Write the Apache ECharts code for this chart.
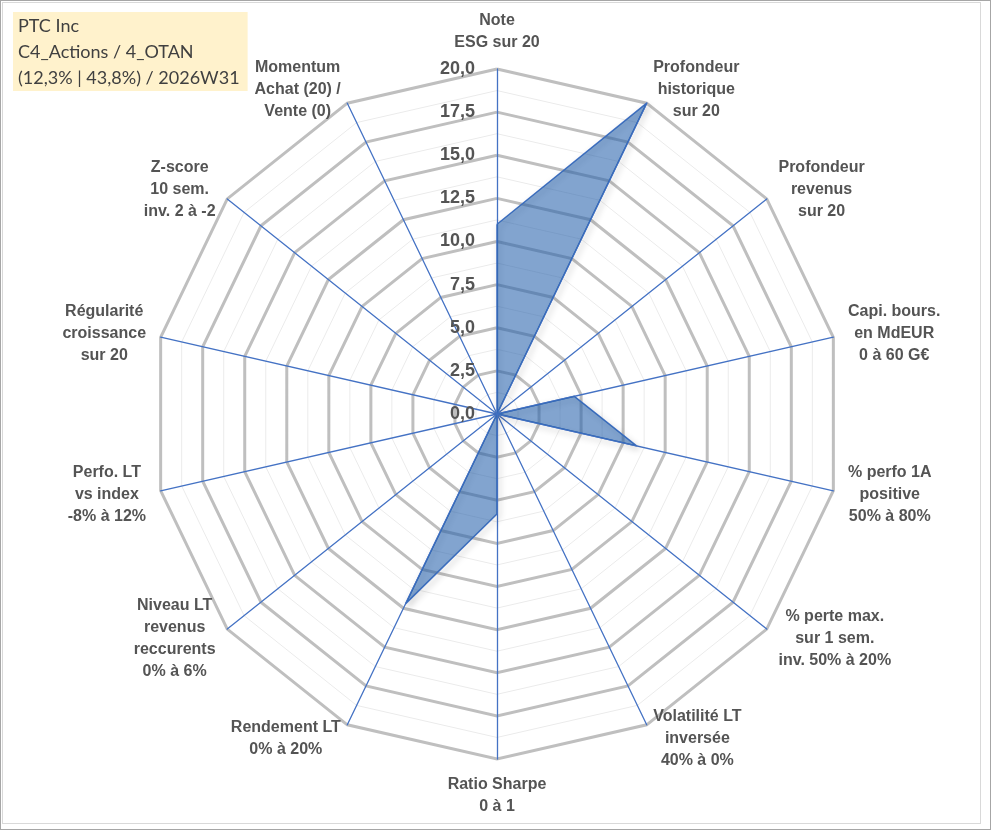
<!DOCTYPE html>
<html lang="fr">
<head>
    <meta charset="UTF-8">
    <title>Radar PTC Inc</title>
    <script src="https://cdn.jsdelivr.net/npm/echarts@6/dist/echarts.min.js"></script>
    <style>
        body { margin: 0; background: #fff; }
        #main { position: absolute; left: 0; top: 0; width: 991px; height: 830px; }
        #outer { position: absolute; left: 0; top: 0; width: 989px; height: 828px; border: 1px solid #a6a6a6; pointer-events: none; }
        #inner { position: absolute; left: 2px; top: 2px; width: 977px; height: 820px; border: 1px solid #d9d9d9; pointer-events: none; }
    </style>
</head>
<body>
<div id="main"></div>
<div id="outer"></div>
<div id="inner"></div>
<script type="text/javascript">
    // axes dans le sens horaire, en partant du haut
    var axes = [
        'Note\nESG sur 20',
        'Profondeur\nhistorique\nsur 20',
        'Profondeur\nrevenus\nsur 20',
        'Capi. bours.\nen MdEUR\n0 à 60 G€',
        '% perfo 1A\npositive\n50% à 80%',
        '% perte max.\nsur 1 sem.\ninv. 50% à 20%',
        'Volatilité LT\ninversée\n40% à 0%',
        'Ratio Sharpe\n0 à 1',
        'Rendement LT\n0% à 20%',
        'Niveau LT\nrevenus\nreccurents\n0% à 6%',
        'Perfo. LT\nvs index\n-8% à 12%',
        'Régularité\ncroissance\nsur 20',
        'Z-score\n10 sem.\ninv. 2 à -2',
        'Momentum\nAchat (20) /\nVente (0)'
    ];
    var scores = [11, 20, 0, 4.6, 8.3, 0, 0, 5.8, 12.2, 0, 0, 0, 0, 0];
    var axisMax = 20;
    var tickStep = 2.5;
    var titleLines = ['PTC Inc', 'C4_Actions / 4_OTAN', '(12,3% | 43,8%) / 2026W31'];

    // ECharts tourne dans le sens anti-horaire : on garde le premier axe et on inverse le reste
    function ccw(arr) {
        return [arr[0]].concat(arr.slice(1).reverse());
    }
    var names = ccw(axes);
    var values = ccw(scores);

    var center = [497, 414];
    var radius = 345;
    var nSplit = axisMax / tickStep;
    var labelColor = '#545454';

    var mainIndicator = names.map(function (n, i) {
        var ind = { name: n, min: 0, max: axisMax };
        if (i === 0) {
            ind.axisLabel = {
                show: true,
                margin: 22,
                color: labelColor,
                fontFamily: 'Liberation Sans',
                fontWeight: 'bold',
                fontSize: 18,
                formatter: function (v) { return v.toFixed(1).replace('.', ','); }
            };
        }
        return ind;
    });
    var minorIndicator = names.map(function (n) {
        return { name: n, min: 0, max: axisMax };
    });

    var myChart = echarts.init(document.getElementById('main'));
    var option = {
        animation: false,
        title: {
            text: titleLines.join('\n'),
            left: 13,
            top: 12,
            padding: [1, 8, 0, 5],
            backgroundColor: '#fff2cc',
            textStyle: {
                fontFamily: 'Lato',
                fontSize: 18,
                fontWeight: 'normal',
                color: '#404040',
                lineHeight: 26
            }
        },
        radar: [
            {
                // quadrillage fin
                center: center,
                radius: radius,
                shape: 'polygon',
                splitNumber: nSplit * 2,
                indicator: minorIndicator,
                axisName: { show: false },
                axisLine: { show: false },
                splitArea: { show: false },
                splitLine: { lineStyle: { color: '#ebebeb', width: 1 } }
            },
            {
                center: center,
                radius: radius,
                shape: 'polygon',
                splitNumber: nSplit,
                indicator: mainIndicator,
                axisNameGap: 15,
                axisName: {
                    color: labelColor,
                    fontFamily: 'Liberation Sans',
                    fontWeight: 'bold',
                    fontSize: 16,
                    lineHeight: 22,
                    formatter: function (name) {
                        return name.split('\n').map(function (s) { return '{c|' + s + '}'; }).join('\n');
                    },
                    rich: {
                        c: {
                            align: 'center',
                            color: labelColor,
                            fontFamily: 'Liberation Sans',
                            fontWeight: 'bold',
                            fontSize: 16,
                            lineHeight: 22
                        }
                    }
                },
                axisLine: { lineStyle: { color: '#4472c4', width: 1.3 } },
                splitArea: { show: false },
                splitLine: { lineStyle: { color: '#bfbfbf', width: 3 } }
            }
        ],
        series: [
            {
                name: 'PTC Inc',
                type: 'radar',
                radarIndex: 1,
                symbol: 'none',
                lineStyle: {
                    color: '#4472c4',
                    width: 1.5,
                    shadowBlur: 6,
                    shadowOffsetX: 2,
                    shadowOffsetY: 3,
                    shadowColor: 'rgba(0, 0, 0, 0.3)'
                },
                areaStyle: {
                    color: 'rgb(40, 98, 172)',
                    opacity: 0.58
                },
                data: [{ value: values, name: 'PTC Inc' }]
            }
        ]
    };
    myChart.setOption(option);
</script>
</body>
</html>
